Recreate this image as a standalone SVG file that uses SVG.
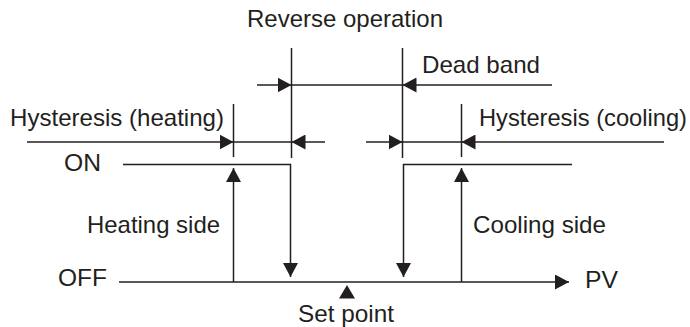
<svg xmlns="http://www.w3.org/2000/svg" width="690" height="327" viewBox="0 0 690 327">
  <style>
    .ln { stroke: #231f20; stroke-width: 1.5; fill: none; }
    .ar { marker-end: url(#arr); }
    .tx { font-family: "Liberation Sans", Arial, sans-serif; font-size: 24px; fill: #231f20; }
    .tri { fill: #231f20; }
  </style>
  <defs>
    <marker id="arr" markerUnits="userSpaceOnUse" markerWidth="14" markerHeight="15" refX="14" refY="7.5" orient="auto">
      <path d="M0,0 L14,7.5 L0,15 Z" fill="#231f20"/>
    </marker>
  </defs>
  <rect width="690" height="327" fill="#ffffff"/>

  <g id="connectors">
    <!-- extension lines -->
    <line class="ln" x1="291.5" y1="48" x2="291.5" y2="158"/>
    <line class="ln" x1="402.5" y1="48" x2="402.5" y2="158"/>
    <line class="ln" x1="233.5" y1="104" x2="233.5" y2="157"/>
    <line class="ln" x1="461.5" y1="104" x2="461.5" y2="157"/>
    <!-- row 1: reverse operation / dead band -->
    <line class="ln ar" x1="257" y1="85" x2="291.5" y2="85"/>
    <line class="ln" x1="291.5" y1="85" x2="402.5" y2="85"/>
    <line class="ln ar" x1="552" y1="85" x2="402.5" y2="85"/>
    <!-- row 2: hysteresis heating -->
    <line class="ln ar" x1="27" y1="142" x2="233.5" y2="142"/>
    <line class="ln" x1="233.5" y1="142" x2="291.5" y2="142"/>
    <line class="ln ar" x1="325" y1="142" x2="291.5" y2="142"/>
    <!-- row 2: hysteresis cooling -->
    <line class="ln ar" x1="366" y1="142" x2="402.5" y2="142"/>
    <line class="ln" x1="402.5" y1="142" x2="461.5" y2="142"/>
    <line class="ln ar" x1="664" y1="142" x2="461.5" y2="142"/>
    <!-- ON lines dropping to OFF -->
    <polyline class="ln ar" points="123,164.5 290.5,164.5 290.5,277"/>
    <polyline class="ln ar" points="572,164.5 403.5,164.5 403.5,277"/>
    <!-- OFF / PV axis -->
    <line class="ln ar" x1="119" y1="282" x2="569" y2="282"/>
    <!-- rising arrows -->
    <line class="ln ar" x1="233.5" y1="282" x2="233.5" y2="168"/>
    <line class="ln ar" x1="461.5" y1="282" x2="461.5" y2="168"/>
  </g>

  <g id="setpoint-marker">
    <polygon class="tri" points="347,285 339,298.5 355,298.5"/>
  </g>

  <g id="labels">
    <text id="reverse-operation" class="tx" x="345" y="27" text-anchor="middle" textLength="196" lengthAdjust="spacingAndGlyphs">Reverse operation</text>
    <text id="dead-band" class="tx" x="422" y="73" textLength="118" lengthAdjust="spacingAndGlyphs">Dead band</text>
    <text id="hyst-heating" class="tx" x="10" y="126" textLength="214" lengthAdjust="spacingAndGlyphs">Hysteresis (heating)</text>
    <text id="hyst-cooling" class="tx" x="479" y="126" textLength="208" lengthAdjust="spacingAndGlyphs">Hysteresis (cooling)</text>
    <text id="on" class="tx" x="64" y="171" textLength="37" lengthAdjust="spacingAndGlyphs">ON</text>
    <text id="off" class="tx" x="58" y="286" textLength="49" lengthAdjust="spacingAndGlyphs">OFF</text>
    <text id="heating-side" class="tx" x="87" y="233" textLength="133" lengthAdjust="spacingAndGlyphs">Heating side</text>
    <text id="cooling-side" class="tx" x="473" y="233" textLength="133" lengthAdjust="spacingAndGlyphs">Cooling side</text>
    <text id="pv" class="tx" x="585" y="288" textLength="33" lengthAdjust="spacingAndGlyphs">PV</text>
    <text id="set-point" class="tx" x="346" y="322" text-anchor="middle" textLength="96" lengthAdjust="spacingAndGlyphs">Set point</text>
  </g>
</svg>
